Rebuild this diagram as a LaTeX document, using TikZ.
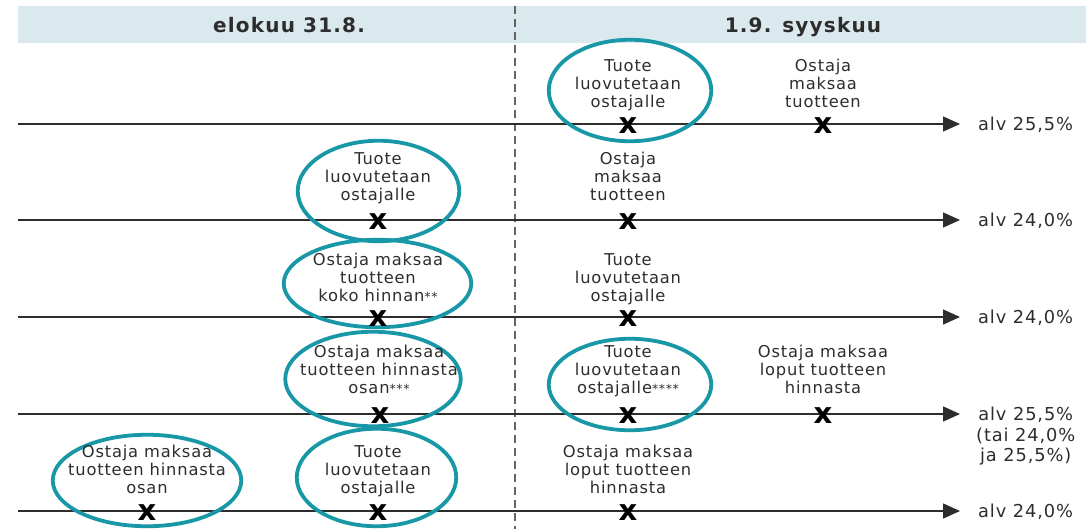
\documentclass[tikz,border=0pt]{standalone}
\usepackage{fontspec}
\setmainfont{DejaVu Sans}[LetterSpace=5]
\newfontfamily\headfont{DejaVu Sans}[LetterSpace=6]
\newfontfamily\crossfont{DejaVu Sans}
\usepackage{tikz}
\usetikzlibrary{arrows.meta, shapes.geometric, positioning}
\definecolor{bandblue}{RGB}{218, 233, 238}
\definecolor{ringteal}{RGB}{24, 152, 166}
\definecolor{inkgray}{RGB}{45, 45, 45}
\definecolor{dashgray}{RGB}{100, 100, 100}
\newcommand{\fnmark}[1]{{\fontsize{12.5}{12.5}\selectfont #1}}
\tikzset{
    bandnode/.style = {fill=bandblue, rectangle, inner sep=0em, anchor=north west},
    headnode/.style = {text=inkgray, inner sep=0em, anchor=base, font=\headfont\bfseries\fontsize{20}{24}\selectfont},
    textnode/.style = {align=center, text=inkgray, inner sep=0em, anchor=north, font=\fontsize{16.3}{18}\selectfont},
    crossnode/.style = {inner sep=0em, text=black, font=\crossfont\bfseries\fontsize{29}{29}\selectfont},
    ringnode/.style = {draw=ringteal, ellipse, line width=3.8pt, inner sep=0em},
    alvnode/.style = {align=center, text=inkgray, inner sep=0em, anchor=north west, font=\fontsize{17.8}{20.5}\selectfont},
    timeline/.style = {draw=inkgray, line width=1.4pt, -{Triangle[length=17pt, width=15pt]}},
    divider/.style = {draw=dashgray, line width=1.8pt, dash pattern=on 8pt off 5pt}
}

\begin{document}
\begin{tikzpicture}[x=1pt, y=-1pt]
    \useasboundingbox (0,0) rectangle (1091,529);

    % header band and the two dates
    \node [name=band, bandnode, minimum width=1068pt, minimum height=37pt] at (18,6) {};
    \node [name=aug, headnode] at (289,32.7) {elokuu 31.8.};
    \node [name=sep, headnode] at (803,32.7) {1.9. syyskuu};
    \coordinate (divtop) at (515,6);
    \coordinate (divbot) at (515,529);
    \draw [divider] (divtop) -- (divbot);

    % time lines
    \coordinate (start1) at (18,124);
    \coordinate (tip1) at (960,124);
    \coordinate (start2) at (18,220);
    \coordinate (tip2) at (960,220);
    \coordinate (start3) at (18,317);
    \coordinate (tip3) at (960,317);
    \coordinate (start4) at (18,414);
    \coordinate (tip4) at (960,414);
    \coordinate (start5) at (18,511);
    \coordinate (tip5) at (960,511);
    \draw [timeline] (start1) -- (tip1);
    \draw [timeline] (start2) -- (tip2);
    \draw [timeline] (start3) -- (tip3);
    \draw [timeline] (start4) -- (tip4);
    \draw [timeline] (start5) -- (tip5);

    \node [name=alv1, alvnode] at (978,117) {alv 25,5\%};
    \node [name=alv2, alvnode] at (978,213) {alv 24,0\%};
    \node [name=alv3, alvnode] at (978,310) {alv 24,0\%};
    \node [name=alv4, alvnode] at (976,407) {alv 25,5\%\\(tai 24,0\%\\ja 25,5\%)};
    \node [name=alv5, alvnode] at (978,504) {alv 24,0\%};

    % rings
    \node [name=ring1b, ringnode, minimum width=162.5pt, minimum height=101.5pt] at (630,90.5) {};
    \node [name=ring2a, ringnode, minimum width=161.5pt, minimum height=100.5pt] at (378.5,191) {};
    \node [name=ring3a, ringnode, minimum width=187.5pt, minimum height=87.5pt] at (377.5,283.5) {};
    \node [name=ring4a, ringnode, minimum width=175.5pt, minimum height=94.5pt] at (373,379) {};
    \node [name=ring4b, ringnode, minimum width=162.5pt, minimum height=91.5pt] at (630,384.5) {};
    \node [name=ring5o, ringnode, minimum width=188.5pt, minimum height=91.5pt] at (147,480.5) {};
    \node [name=ring5a, ringnode, minimum width=159.5pt, minimum height=97.5pt] at (376.5,477.5) {};

    % crosses
    \node [name=x1b, crossnode] at (628,126) {x};
    \node [name=x1c, crossnode] at (823,126) {x};
    \node [name=x2a, crossnode] at (378,222) {x};
    \node [name=x2b, crossnode] at (628,222) {x};
    \node [name=x3a, crossnode] at (378,319) {x};
    \node [name=x3b, crossnode] at (628,319) {x};
    \node [name=x4a, crossnode] at (380,416) {x};
    \node [name=x4b, crossnode] at (628,416) {x};
    \node [name=x4c, crossnode] at (823,416) {x};
    \node [name=x5o, crossnode] at (147,513) {x};
    \node [name=x5a, crossnode] at (378,513) {x};
    \node [name=x5b, crossnode] at (628,513) {x};

    % texts
    \node [name=t1b, textnode] at (628,59) {Tuote\\luovutetaan\\ostajalle};
    \node [name=t1c, textnode] at (823,59) {Ostaja\\maksaa\\tuotteen};
    \node [name=t2a, textnode] at (378,152) {Tuote\\luovutetaan\\ostajalle};
    \node [name=t2b, textnode] at (628,152) {Ostaja\\maksaa\\tuotteen};
    \node [name=t3a, textnode] at (378,253) {Ostaja maksaa\\tuotteen\\koko hinnan\fnmark{**}};
    \node [name=t3b, textnode] at (628,253) {Tuote\\luovutetaan\\ostajalle};
    \node [name=t4a, textnode] at (379,345) {Ostaja maksaa\\tuotteen hinnasta\\osan\fnmark{***}};
    \node [name=t4b, textnode] at (628,345) {Tuote\\luovutetaan\\ostajalle\fnmark{****}};
    \node [name=t4c, textnode] at (823,345) {Ostaja maksaa\\loput tuotteen\\hinnasta};
    \node [name=t5o, textnode] at (147,445) {Ostaja maksaa\\tuotteen hinnasta\\osan};
    \node [name=t5a, textnode] at (378,445) {Tuote\\luovutetaan\\ostajalle};
    \node [name=t5b, textnode] at (628,445) {Ostaja maksaa\\loput tuotteen\\hinnasta};
\end{tikzpicture}
\end{document}
